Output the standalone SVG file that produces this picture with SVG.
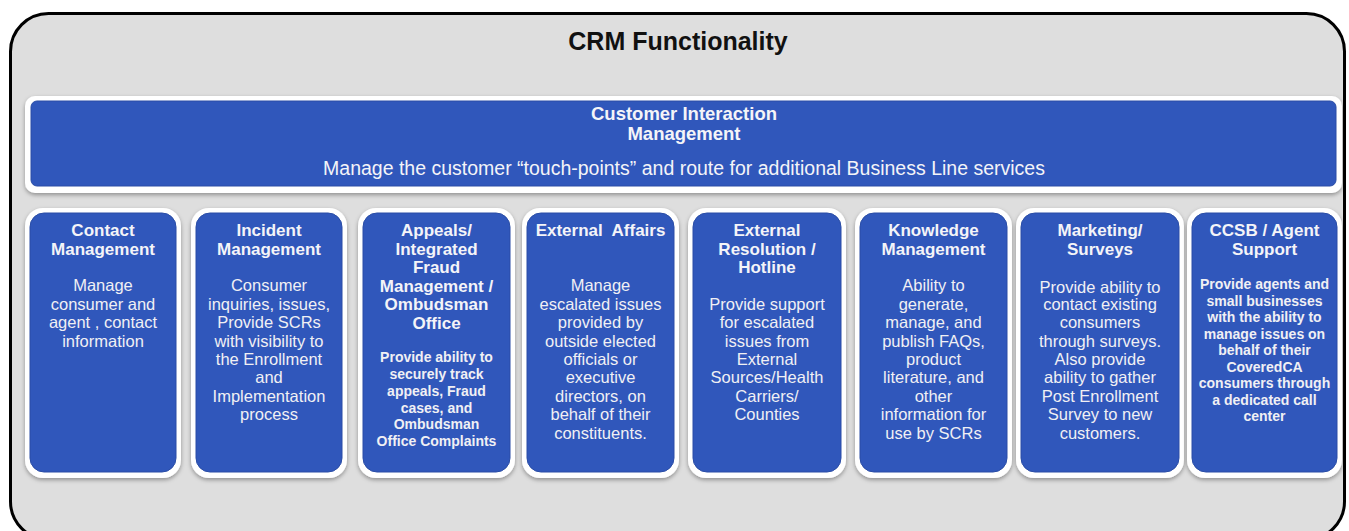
<svg xmlns="http://www.w3.org/2000/svg" width="1349" height="531" viewBox="0 0 1349 531">
<style>
.bg{fill:#ffffff}
.frame{fill:#dedede;stroke:#000;stroke-width:3}
.outer{fill:#ffffff;filter:url(#sh)}
.card{fill:#3057bb;stroke:#2a4da6;stroke-width:1}
.title{font-family:"Liberation Sans",Arial,sans-serif;font-weight:bold;font-size:25px;fill:#111;text-anchor:middle}
.bh{font-family:"Liberation Sans",Arial,sans-serif;font-weight:bold;font-size:18.5px;fill:#f4f4f8;text-anchor:middle}
.bb{font-family:"Liberation Sans",Arial,sans-serif;font-size:19.5px;fill:#f4f4f8;text-anchor:middle}
.h{font-family:"Liberation Sans",Arial,sans-serif;font-weight:bold;font-size:17px;fill:#f4f4f8;text-anchor:middle;white-space:pre}
.b{font-family:"Liberation Sans",Arial,sans-serif;font-size:16.5px;fill:#f0f0f4;text-anchor:middle}
.bs{font-family:"Liberation Sans",Arial,sans-serif;font-weight:bold;font-size:14px;fill:#f0f0f4;text-anchor:middle}
</style>
<defs>
<filter id="sh" x="-10%" y="-10%" width="120%" height="125%">
<feDropShadow dx="0" dy="2" stdDeviation="2" flood-color="#000" flood-opacity="0.35"/>
</filter>
</defs>
<rect class="bg" x="0" y="0" width="1349" height="531"/>
<g id="frame">
<rect class="frame" x="10.5" y="13.5" width="1334" height="526" rx="38"/>
<text class="title" x="678" y="50">CRM Functionality</text>
</g>
<g id="cim">
<rect class="outer" x="25" y="96" width="1317" height="97" rx="10"/>
<rect class="card" x="31" y="101" width="1305" height="85" rx="6"/>
<text class="bh" x="684" y="120">Customer Interaction</text>
<text class="bh" x="684" y="140">Management</text>
<text class="bb" x="684" y="175">Manage the customer “touch-points” and route for additional Business Line services</text>
</g>
<g id="contact">
<rect class="outer" x="25" y="208" width="156" height="270" rx="18"/>
<rect class="card" x="30" y="213" width="146" height="259" rx="14"/>
<text class="h" x="103" y="236">Contact</text>
<text class="h" x="103" y="255">Management</text>
<text class="b" x="103" y="291">Manage</text>
<text class="b" x="103" y="310">consumer and</text>
<text class="b" x="103" y="328">agent , contact</text>
<text class="b" x="103" y="347">information</text>
</g>
<g id="incident">
<rect class="outer" x="191" y="208" width="156" height="270" rx="18"/>
<rect class="card" x="196" y="213" width="146" height="259" rx="14"/>
<text class="h" x="269" y="236">Incident</text>
<text class="h" x="269" y="255">Management</text>
<text class="b" x="269" y="291">Consumer</text>
<text class="b" x="269" y="310">inquiries, issues,</text>
<text class="b" x="269" y="328">Provide SCRs</text>
<text class="b" x="269" y="347">with visibility to</text>
<text class="b" x="269" y="365">the Enrollment</text>
<text class="b" x="269" y="383">and</text>
<text class="b" x="269" y="402">Implementation</text>
<text class="b" x="269" y="420">process</text>
</g>
<g id="appeals">
<rect class="outer" x="358" y="208" width="157" height="270" rx="18"/>
<rect class="card" x="363" y="213" width="147" height="259" rx="14"/>
<text class="h" x="436.5" y="236">Appeals/</text>
<text class="h" x="436.5" y="255">Integrated</text>
<text class="h" x="436.5" y="273">Fraud</text>
<text class="h" x="436.5" y="292">Management /</text>
<text class="h" x="436.5" y="310">Ombudsman</text>
<text class="h" x="436.5" y="329">Office</text>
<text class="bs" x="436.5" y="362">Provide ability to</text>
<text class="bs" x="436.5" y="379">securely track</text>
<text class="bs" x="436.5" y="396">appeals, Fraud</text>
<text class="bs" x="436.5" y="413">cases, and</text>
<text class="bs" x="436.5" y="429">Ombudsman</text>
<text class="bs" x="436.5" y="446">Office Complaints</text>
</g>
<g id="external-affairs">
<rect class="outer" x="522" y="208" width="157" height="270" rx="18"/>
<rect class="card" x="527" y="213" width="147" height="259" rx="14"/>
<text class="h" x="600.5" y="236" xml:space="preserve">External  Affairs</text>
<text class="b" x="600.5" y="291">Manage</text>
<text class="b" x="600.5" y="310">escalated issues</text>
<text class="b" x="600.5" y="328">provided by</text>
<text class="b" x="600.5" y="347">outside elected</text>
<text class="b" x="600.5" y="365">officials or</text>
<text class="b" x="600.5" y="383">executive</text>
<text class="b" x="600.5" y="402">directors, on</text>
<text class="b" x="600.5" y="420">behalf of their</text>
<text class="b" x="600.5" y="439">constituents.</text>
</g>
<g id="external-resolution">
<rect class="outer" x="688" y="208" width="158" height="270" rx="18"/>
<rect class="card" x="693" y="213" width="148" height="259" rx="14"/>
<text class="h" x="767" y="236">External</text>
<text class="h" x="767" y="255">Resolution /</text>
<text class="h" x="767" y="273">Hotline</text>
<text class="b" x="767" y="310">Provide support</text>
<text class="b" x="767" y="328">for escalated</text>
<text class="b" x="767" y="347">issues from</text>
<text class="b" x="767" y="365">External</text>
<text class="b" x="767" y="383">Sources/Health</text>
<text class="b" x="767" y="402">Carriers/</text>
<text class="b" x="767" y="420">Counties</text>
</g>
<g id="knowledge">
<rect class="outer" x="855" y="208" width="157" height="270" rx="18"/>
<rect class="card" x="860" y="213" width="147" height="259" rx="14"/>
<text class="h" x="933.5" y="236">Knowledge</text>
<text class="h" x="933.5" y="255">Management</text>
<text class="b" x="933.5" y="291">Ability to</text>
<text class="b" x="933.5" y="310">generate,</text>
<text class="b" x="933.5" y="328">manage, and</text>
<text class="b" x="933.5" y="347">publish FAQs,</text>
<text class="b" x="933.5" y="365">product</text>
<text class="b" x="933.5" y="383">literature, and</text>
<text class="b" x="933.5" y="402">other</text>
<text class="b" x="933.5" y="420">information for</text>
<text class="b" x="933.5" y="439">use by SCRs</text>
</g>
<g id="marketing">
<rect class="outer" x="1016" y="208" width="168" height="270" rx="18"/>
<rect class="card" x="1021" y="213" width="158" height="259" rx="14"/>
<text class="h" x="1100" y="236">Marketing/</text>
<text class="h" x="1100" y="255">Surveys</text>
<text class="b" x="1100" y="293">Provide ability to</text>
<text class="b" x="1100" y="310">contact existing</text>
<text class="b" x="1100" y="328">consumers</text>
<text class="b" x="1100" y="347">through surveys.</text>
<text class="b" x="1100" y="365">Also provide</text>
<text class="b" x="1100" y="383">ability to gather</text>
<text class="b" x="1100" y="402">Post Enrollment</text>
<text class="b" x="1100" y="420">Survey to new</text>
<text class="b" x="1100" y="439">customers.</text>
</g>
<g id="ccsb">
<rect class="outer" x="1187" y="208" width="155" height="270" rx="18"/>
<rect class="card" x="1192" y="213" width="145" height="259" rx="14"/>
<text class="h" x="1264.5" y="236">CCSB / Agent</text>
<text class="h" x="1264.5" y="255">Support</text>
<text class="bs" x="1264.5" y="289">Provide agents and</text>
<text class="bs" x="1264.5" y="306">small businesses</text>
<text class="bs" x="1264.5" y="322">with the ability to</text>
<text class="bs" x="1264.5" y="339">manage issues on</text>
<text class="bs" x="1264.5" y="355">behalf of their</text>
<text class="bs" x="1264.5" y="372">CoveredCA</text>
<text class="bs" x="1264.5" y="388">consumers through</text>
<text class="bs" x="1264.5" y="405">a dedicated call</text>
<text class="bs" x="1264.5" y="421">center</text>
</g>
<g id="connectors"></g>
</svg>
